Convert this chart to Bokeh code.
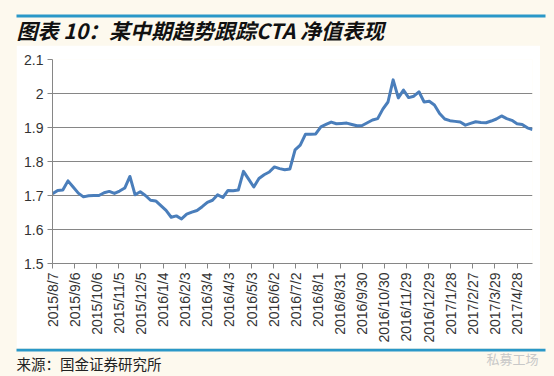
import math
from datetime import datetime, timedelta
from bokeh.plotting import figure
from bokeh.layouts import column
from bokeh.models import Range1d, FixedTicker, CustomJSTickFormatter, NumeralTickFormatter
from bokeh.core.properties import value
from bokeh.embed import file_html
from bokeh.resources import INLINE

start_date = "2015/8/7"
nav_values = [
    1.705, 1.715, 1.716, 1.743, 1.725, 1.707, 1.696, 1.699, 1.700, 1.700,
    1.708, 1.712, 1.706, 1.713, 1.722, 1.756, 1.702, 1.711, 1.700, 1.686,
    1.684, 1.670, 1.656, 1.636, 1.640, 1.631, 1.645, 1.651, 1.656, 1.667,
    1.680, 1.686, 1.702, 1.694, 1.715, 1.714, 1.716, 1.771, 1.748, 1.725,
    1.750, 1.761, 1.769, 1.784, 1.779, 1.776, 1.778, 1.834, 1.848, 1.880,
    1.880, 1.881, 1.902, 1.909, 1.916, 1.911, 1.912, 1.913, 1.909, 1.905,
    1.906, 1.914, 1.922, 1.926, 1.954, 1.975, 2.040, 1.987, 2.010, 1.988,
    1.992, 2.005, 1.975, 1.977, 1.966, 1.941, 1.925, 1.920, 1.918, 1.916,
    1.907, 1.912, 1.917, 1.915, 1.914, 1.919, 1.925, 1.934, 1.926, 1.921,
    1.911, 1.909, 1.899, 1.894,
]
tick_labels = [
    "2015/8/7", "2015/9/6", "2015/10/6", "2015/11/5", "2015/12/5", "2016/1/4",
    "2016/2/3", "2016/3/4", "2016/4/3", "2016/5/3", "2016/6/2", "2016/7/2",
    "2016/8/1", "2016/8/31", "2016/9/30", "2016/10/30", "2016/11/29",
    "2016/12/29", "2017/1/28", "2017/2/27", "2017/3/29", "2017/4/28",
]
y_ticks = [1.5, 1.6, 1.7, 1.8, 1.9, 2.0, 2.1]
title_text = "图表 10：某中期趋势跟踪CTA 净值表现"
source_text = "来源：国金证券研究所"
watermark_text = "私募工场"

start = datetime.strptime(start_date, "%Y/%m/%d")
dates = [start + timedelta(days=7 * i) for i in range(len(nav_values))]
x_days = [(d - start).days for d in dates]
tick_pos = [(datetime.strptime(t, "%Y/%m/%d") - start).days for t in tick_labels]

W, H = 554, 376
HEAD_H, FOOT_H = 45, 28
MAIN_H = H - HEAD_H - FOOT_H
PANEL_L, PANEL_R = 16, 540
CREAM = "#FDF9EE"
BLUE_RULE = "#2A98C8"
CJK = "Noto Sans CJK SC"

# ---- header (title + rule)
hdr = figure(width=W, height=HEAD_H, x_range=Range1d(0, W), y_range=Range1d(HEAD_H, 0),
             output_backend="svg", toolbar_location=None, min_border=0,
             x_axis_location=None, y_axis_location=None, frame_align=False)
hdr.grid.visible = False
hdr.outline_line_color = None
hdr.background_fill_color = CREAM
hdr.border_fill_color = CREAM
hdr.quad(left=[16], right=[545], top=[14], bottom=[17], color=BLUE_RULE, line_color=None)
hdr.text(x=[16], y=[29], text=[title_text], text_font=value(CJK), text_font_size="21px",
         text_font_style="bold italic", text_baseline="middle", text_color="#111111")

# ---- main chart
FL, FR, FT, FB = 52, 532, 59, 263   # frame edges in page pixels
p = figure(width=PANEL_R - PANEL_L, height=MAIN_H, output_backend="svg", toolbar_location=None,
           x_range=Range1d(0, x_days[-1]), y_range=Range1d(1.5, 2.1),
           min_border_left=FL - PANEL_L, min_border_right=PANEL_R - FR,
           min_border_top=FT - HEAD_H, min_border_bottom=HEAD_H + MAIN_H - FB,
           margin=(0, W - PANEL_R, 0, PANEL_L), frame_align=False)
p.background_fill_color = "white"
p.border_fill_color = "white"
p.outline_line_color = None

p.line(x_days, nav_values, line_color="#4A7EBB", line_width=3, line_join="round")

AX = "#868686"
p.yaxis.ticker = FixedTicker(ticks=y_ticks)
p.yaxis.formatter = NumeralTickFormatter(format="0.[0]")
p.xaxis.ticker = FixedTicker(ticks=tick_pos)
p.xaxis.formatter = CustomJSTickFormatter(args=dict(pos=tick_pos, labels=tick_labels), code="""
    const i = pos.indexOf(Math.round(tick));
    return i >= 0 ? labels[i] : "";
""")
p.xaxis.major_label_orientation = math.pi / 2
for ax in (p.xaxis[0], p.yaxis[0]):
    ax.axis_line_color = AX
    ax.major_tick_line_color = AX
    ax.major_tick_out = 5
    ax.major_tick_in = 0
    ax.minor_tick_line_color = None
    ax.major_label_text_font = "Liberation Sans"
    ax.major_label_text_font_size = "14px"
    ax.major_label_text_color = "#333333"
    ax.major_label_standoff = 4
p.xgrid.grid_line_color = None
p.ygrid.grid_line_color = AX
p.ygrid.grid_line_width = 1

# ---- footer (rule + source + watermark)
y0 = H - FOOT_H
ftr = figure(width=W, height=FOOT_H, x_range=Range1d(0, W), y_range=Range1d(H, y0),
             output_backend="svg", toolbar_location=None, min_border=0,
             x_axis_location=None, y_axis_location=None, frame_align=False)
ftr.grid.visible = False
ftr.outline_line_color = None
ftr.background_fill_color = CREAM
ftr.border_fill_color = CREAM
ftr.quad(left=[16], right=[545], top=[y0], bottom=[y0 + 3], color=BLUE_RULE, line_color=None)
ftr.text(x=[16], y=[363], text=[source_text], text_font=value(CJK), text_font_size="14.5px",
         text_baseline="middle", text_color="#222222")
ftr.text(x=[512], y=[358], text=[watermark_text], text_font=value(CJK), text_font_size="13px",
         text_align="center", text_baseline="middle", text_color="#C8C8C8")

layout = column(hdr, p, ftr, spacing=0, styles={"background-color": CREAM})
open("out.html", "w").write(file_html(layout, INLINE))
